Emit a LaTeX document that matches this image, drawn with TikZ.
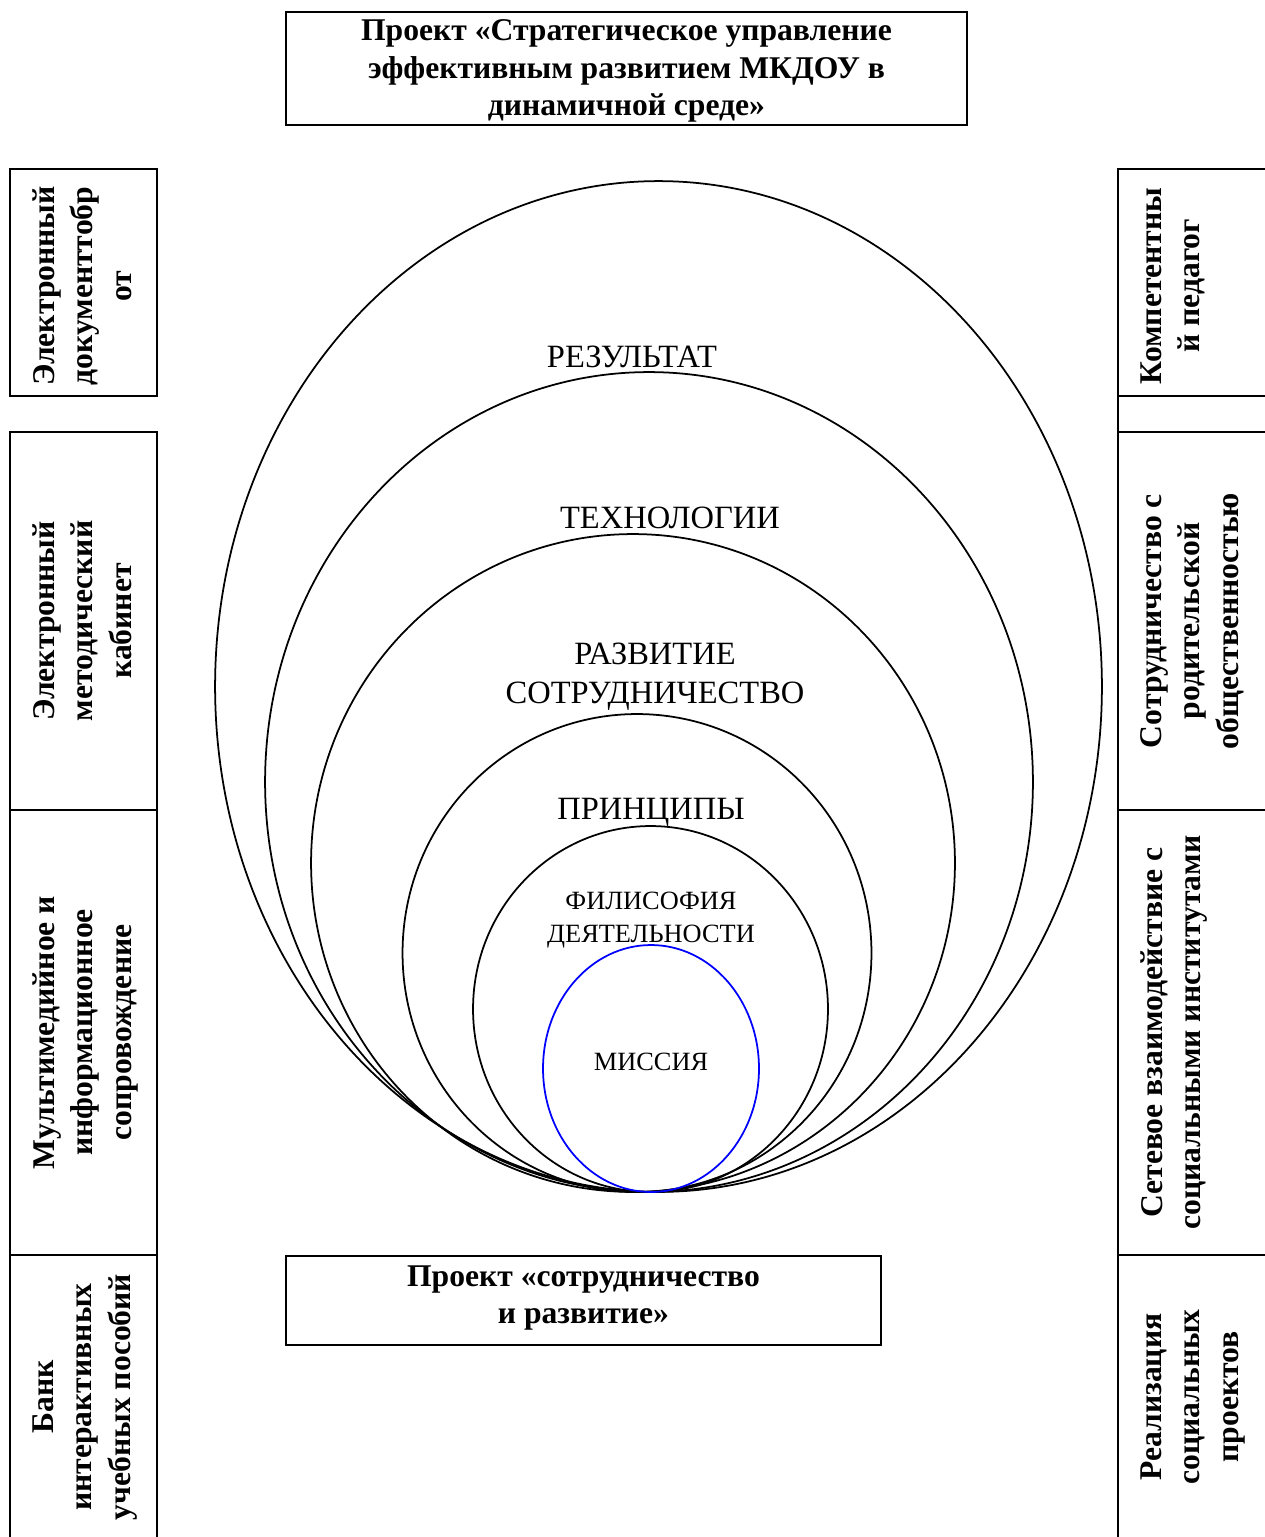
\documentclass[tikz,border=0pt]{standalone}
\usepackage{fontspec}
\setmainfont{Liberation Serif}
\usetikzlibrary{positioning}

\begin{document}
\begin{tikzpicture}[
    x=0.02cm, y=-0.02cm,
    box/.style={draw, line width=1.1pt},
    boxtext/.style={font=\bfseries\fontsize{18}{21.3}\selectfont, align=center},
    sidetext/.style={boxtext, font=\bfseries\fontsize{18}{22}\selectfont, rotate=90, anchor=north, inner sep=0pt},
    ring/.style={line width=1pt},
    lbl/.style={font=\fontsize{18.5}{22}\selectfont, align=center, inner sep=0pt},
    smalllbl/.style={font=\fontsize{15}{18.5}\selectfont, align=center, inner sep=0pt}
]
    \useasboundingbox (0,0) rectangle (1264,1537);

    % project boxes
    \draw[box] (286,12) rectangle (967,125);
    \node[boxtext] (strat) at (626.5,71) {Проект «Стратегическое управление\\эффективным развитием МКДОУ в\\динамичной среде»};
    \draw[box] (286,1256) rectangle (881,1345);
    \node[boxtext] (sotr) at (583.5,1298) {Проект «сотрудничество\\и развитие»};

    % left column
    \draw[box] (10,169) rectangle (157,396);
    \draw[box] (10,432) rectangle (157,810);
    \draw[box] (10,810) rectangle (157,1255);
    \draw[box] (10,1255) rectangle (157,1545);
    \node[sidetext] (doc) at (32,286) {Электронный\\документтобр\\от};
    \node[sidetext] (kab) at (32,621) {Электронный\\методический\\кабинет};
    \node[sidetext] (multi) at (32,1032.5) {Мультимедийное и\\информационное\\сопровождение};
    \node[sidetext] (bank) at (32,1397) {Банк\\интерактивных\\учебных пособий};

    % right column
    \draw[box] (1118,169) rectangle (1270,396);
    \draw[box] (1118,396) rectangle (1270,432);
    \draw[box] (1118,432) rectangle (1270,810);
    \draw[box] (1118,810) rectangle (1270,1255);
    \draw[box] (1118,1255) rectangle (1270,1545);
    \node[sidetext] (komp) at (1140,286) {Компетентны\\й педагог};
    \node[sidetext] (rod) at (1140,621) {Сотрудничество с\\родительской\\общественностью};
    \node[sidetext] (set) at (1140,1032.5) {Сетевое взаимодействие с\\социальными институтами};
    \node[sidetext] (real) at (1140,1397) {Реализация\\социальных\\проектов};

    % nested ellipses, all touching at the bottom
    \draw[ring] (658.5,686.5) ellipse [x radius=8.87cm, y radius=10.11cm];
    \draw[ring] (649,782) ellipse [x radius=7.68cm, y radius=8.20cm];
    \draw[ring] (633,863) ellipse [x radius=6.44cm, y radius=6.58cm];
    \draw[ring] (637,953) ellipse [x radius=4.69cm, y radius=4.78cm];
    \draw[ring] (650.5,1009) ellipse [x radius=3.55cm, y radius=3.66cm];
    \draw[ring, blue] (651,1068.5) ellipse [x radius=2.16cm, y radius=2.47cm];

    \node[lbl] (rez) at (632,357) {РЕЗУЛЬТАТ};
    \node[lbl] (tech) at (670,518) {ТЕХНОЛОГИИ};
    \node[lbl] (razv) at (655,677) {РАЗВИТИЕ\\СОТРУДНИЧЕСТВО};
    \node[lbl] (princ) at (651,812) {ПРИНЦИПЫ};
    \node[smalllbl] (fil) at (651,920) {ФИЛИСОФИЯ\\ДЕЯТЕЛЬНОСТИ};
    \node[smalllbl] (miss) at (651,1062) {МИССИЯ};
\end{tikzpicture}
\end{document}
